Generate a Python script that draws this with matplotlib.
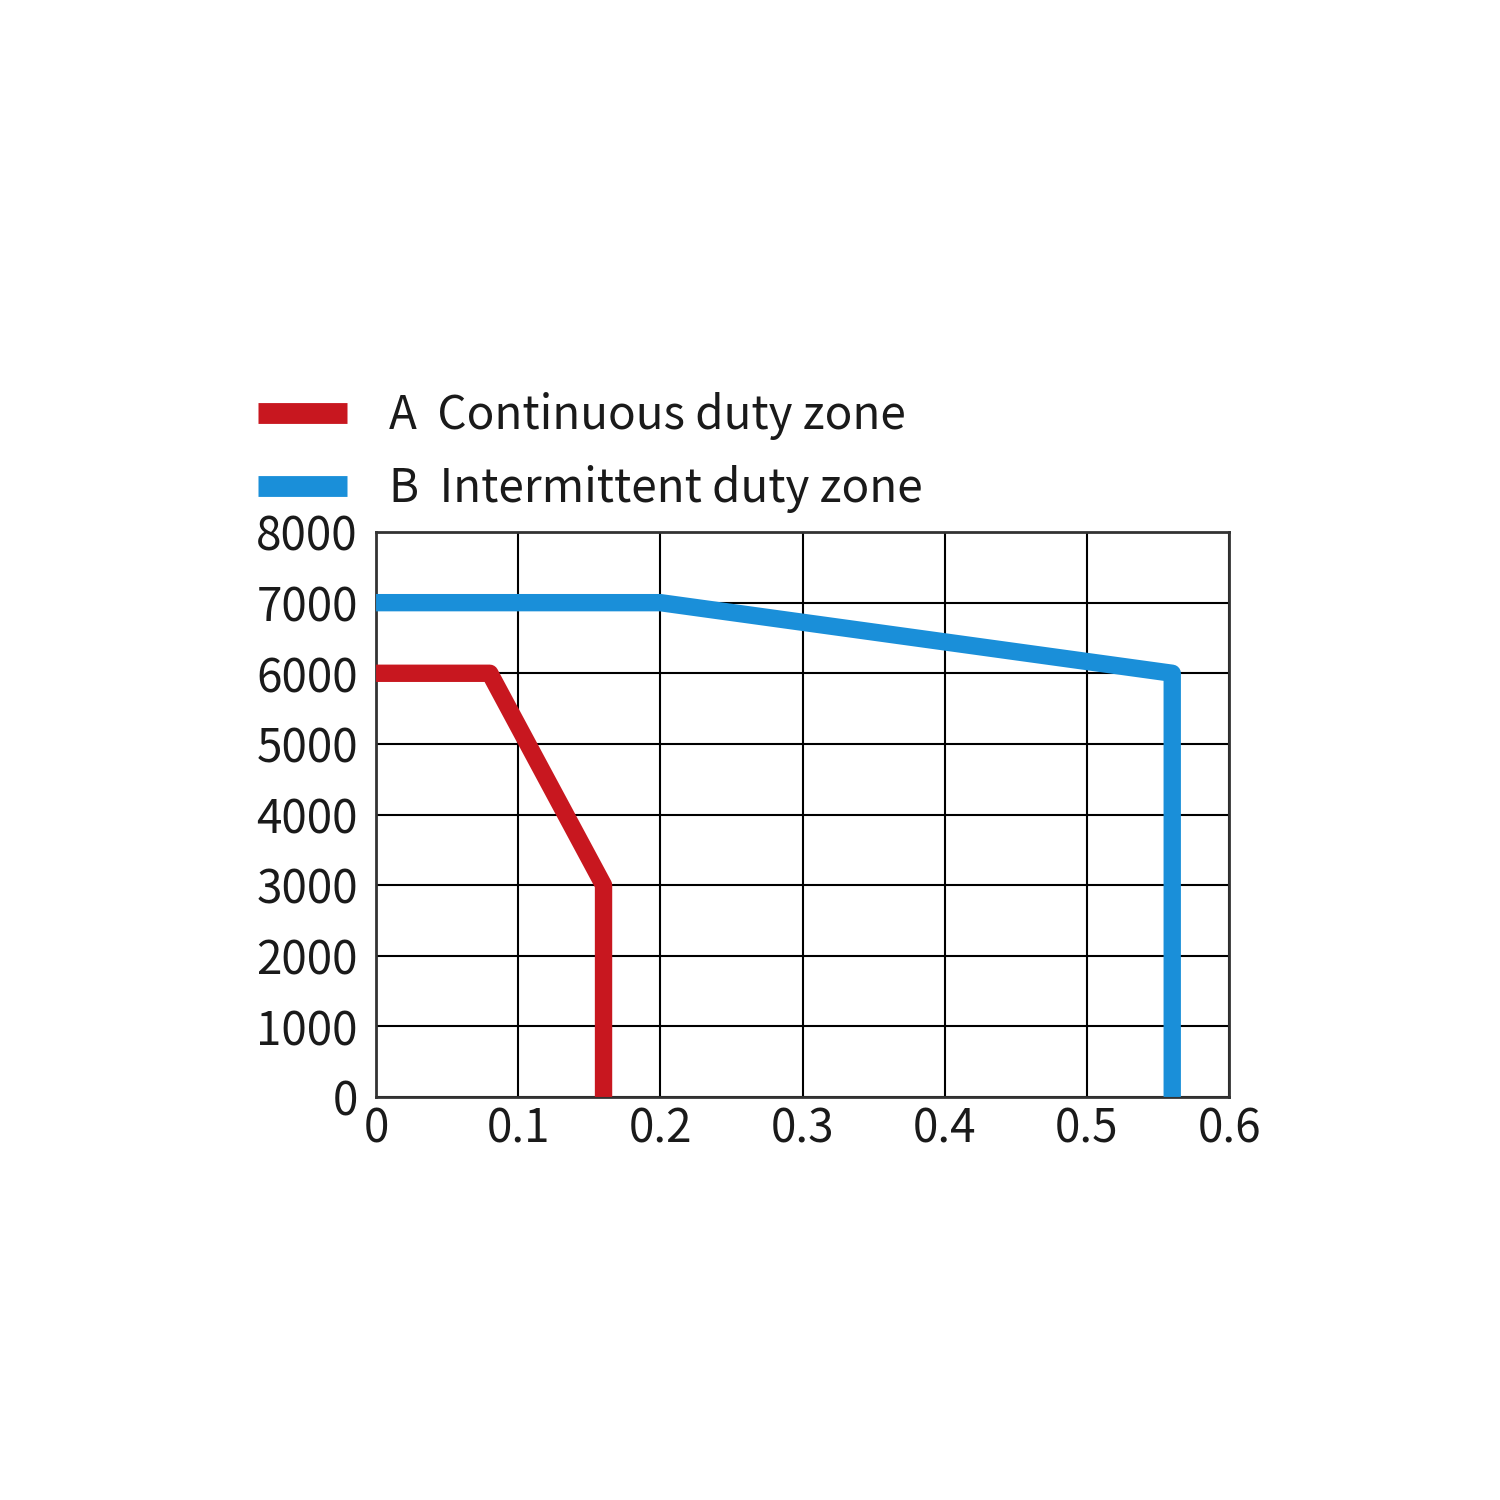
import matplotlib
matplotlib.use("Agg")
import matplotlib.pyplot as plt

plt.rcParams['font.family'] = ['Noto Sans CJK SC', 'DejaVu Sans']
plt.rcParams['font.weight'] = 'light'

# curve A: continuous duty zone
a_x = [0, 0.08, 0.16, 0.16]
a_y = [6000, 6000, 3000, 0]
# curve B: intermittent duty zone
b_x = [0, 0.2, 0.56, 0.56]
b_y = [7000, 7000, 6000, 0]

labels = ["A  Continuous duty zone", "B  Intermittent duty zone"]
xticks = [0, 0.1, 0.2, 0.3, 0.4, 0.5, 0.6]
xtick_labels = ["0", "0.1", "0.2", "0.3", "0.4", "0.5", "0.6"]
yticks = [0, 1000, 2000, 3000, 4000, 5000, 6000, 7000, 8000]

red = "#c8171f"
blue = "#1a8fd9"

fig = plt.figure(figsize=(15, 15), dpi=100)
ax = fig.add_axes([0.2507, 0.2687, 0.5687, 0.3766])

ax.plot(a_x, a_y, color=red, lw=12.5, solid_joinstyle='round',
        solid_capstyle='butt', label=labels[0], zorder=3)
ax.plot(b_x, b_y, color=blue, lw=12.5, solid_joinstyle='round',
        solid_capstyle='butt', label=labels[1], zorder=3)

ax.set_xlim(0, 0.6)
ax.set_ylim(0, 8000)
ax.set_xticks(xticks)
ax.set_xticklabels(xtick_labels)
ax.set_yticks(yticks)
ax.grid(True, color="black", lw=1.5)
ax.set_axisbelow(True)
for s in ax.spines.values():
    s.set_color("#333333")
    s.set_linewidth(2)
ax.tick_params(length=0, labelsize=33, colors="#1a1a1a")
ax.tick_params(axis='y', pad=13)
ax.tick_params(axis='x', pad=6)

leg = ax.legend(loc='center left', bbox_to_anchor=(0.172, 0.6985),
                bbox_transform=fig.transFigure, frameon=False,
                fontsize=33, handlelength=1.95, handletextpad=0.9,
                labelspacing=0.52, borderpad=0, borderaxespad=0)
for h in leg.get_lines():
    h.set_linewidth(15)
for t in leg.get_texts():
    t.set_color("#1a1a1a")

fig.savefig("out.png", dpi=100, facecolor="white")
